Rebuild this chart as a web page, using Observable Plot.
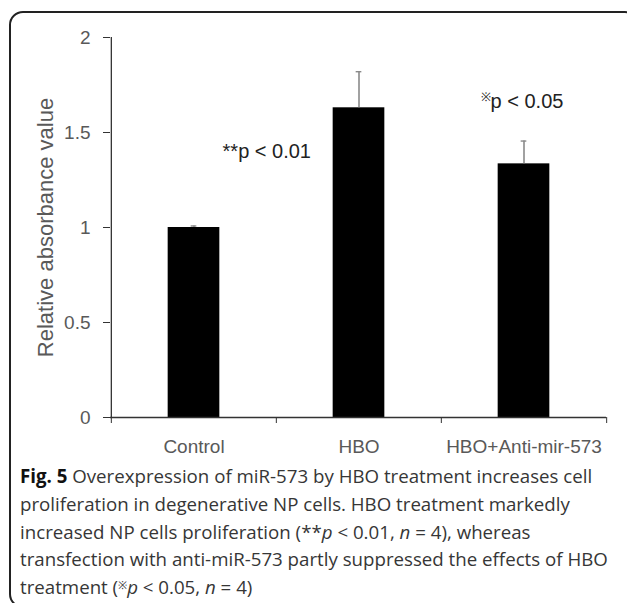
<!DOCTYPE html>
<html>
<head>
<meta charset="utf-8">
<script src="https://cdn.jsdelivr.net/npm/d3@7"></script>
<script src="https://cdn.jsdelivr.net/npm/@observablehq/plot@0.6"></script>
<style>
  html, body { margin: 0; padding: 0; background: #fff; }
  body { width: 627px; height: 603px; position: relative; overflow: hidden; }
  #frame { position: absolute; left: 9px; top: 11px; width: 630px; height: 597px;
           border: 2px solid #222; border-radius: 14px; box-sizing: border-box; pointer-events: none; }
  #chart { position: absolute; left: 0; top: 0; }
  #caption { position: absolute; left: 20px; top: 462px; width: 605px;
             font-family: "Open Sans", sans-serif; font-size: 18.7px; line-height: 27.8px;
             color: #363636; white-space: nowrap; }
  #caption b { color: #111; }
  #caption sup { font-size: 11px; line-height: 0; vertical-align: 0.5em; }
</style>
</head>
<body>
<div id="chart"></div>
<div id="caption"><b>Fig. 5</b> Overexpression of miR-573 by HBO treatment increases cell<br>proliferation in degenerative NP cells. HBO treatment markedly<br>increased NP cells proliferation (**<i>p</i> &lt; 0.01, <i>n</i> = 4), whereas<br>transfection with anti-miR-573 partly suppressed the effects of HBO<br>treatment (<sup>※</sup><i>p</i> &lt; 0.05, <i>n</i> = 4)</div>
<div id="frame"></div>
<script>
const categories = ["Control", "HBO", "HBO+Anti-mir-573"];
const values = [1.0, 1.63, 1.335];
const errors = [0.008, 0.19, 0.12];
const yTicks = [0, 0.5, 1, 1.5, 2];
const annotationCats = ["HBO", "HBO+Anti-mir-573"];
const annotationY = [1.40, 1.68];
const annotationText = ["**p < 0.01", "※p < 0.05"];

const data = categories.map((c, i) => ({cat: c, value: values[i], err: errors[i]}));
const notes = annotationCats.map((c, i) => ({cat: c, y: annotationY[i], text: annotationText[i]}));

const W = 627, H = 460, ML = 110, MR = 21, MT = 37, MB = 43;
const bw = (W - ML - MR) / categories.length;
const barW = 52, capW = 6;
const axisColor = "#333";
const textColor = "#595959";

const chart = Plot.plot({
  width: W, height: H,
  marginLeft: ML, marginRight: MR, marginTop: MT, marginBottom: MB,
  style: {fontFamily: "'Liberation Sans', Arial, sans-serif", background: "transparent"},
  x: {domain: categories, padding: 0},
  y: {domain: [0, 2]},
  marks: [
    Plot.barY(data, {x: "cat", y: "value", fill: "#000", insetLeft: (bw - barW) / 2, insetRight: (bw - barW) / 2}),
    Plot.ruleX(data, {x: "cat", y1: "value", y2: d => d.value + d.err, stroke: "#8a8a8a", strokeWidth: 1.6}),
    Plot.tickY(data, {x: "cat", y: d => d.value + d.err, stroke: "#8a8a8a", strokeWidth: 1.4, insetLeft: (bw - capW) / 2, insetRight: (bw - capW) / 2}),
    Plot.ruleY([0], {stroke: axisColor, strokeWidth: 1.3}),
    Plot.ruleX([categories[0]], {x: d => d, y1: 0, y2: 2, dx: -bw / 2, stroke: axisColor, strokeWidth: 1.3}),
    Plot.axisY({ticks: yTicks, tickFormat: d => String(d), tickSize: 7, tickPadding: 13, fontSize: 19, fill: textColor, stroke: axisColor, label: null}),
    Plot.axisX(categories, {tickSize: 6, tickFormat: () => "", dx: -bw / 2, stroke: axisColor, label: null}),
    Plot.axisX([categories[categories.length - 1]], {tickSize: 6, tickFormat: () => "", dx: bw / 2, stroke: axisColor, label: null}),
    Plot.axisX({tickSize: 0, tickPadding: 21.5, fontSize: 19, fill: textColor, label: null}),
    Plot.text(["Relative absorbance value"], {text: d => d, frameAnchor: "left", textAnchor: "middle", rotate: -90, dx: -65, fontSize: 22, fill: textColor}),
    Plot.text(notes.slice(0, 1), {x: "cat", y: "y", text: "text", textAnchor: "end", dx: -48, fontSize: 20, fill: "#222"}),
    Plot.text(notes.slice(1), {x: "cat", y: "y", text: "text", textAnchor: "middle", dx: -2, fontSize: 20, fill: "#222"})
  ]
});
// render the reference mark "※" small and raised, as in the original
d3.select(chart).selectAll("text").filter(function() { return this.textContent.startsWith("※"); })
  .each(function() {
    const rest = this.textContent.slice(1);
    const t = d3.select(this).text("");
    t.append("tspan").attr("font-size", 12).attr("dy", "-0.35em").text("※");
    t.append("tspan").attr("dy", "0.35em").text(rest);
  });
document.getElementById("chart").appendChild(chart);
</script>
</body>
</html>
